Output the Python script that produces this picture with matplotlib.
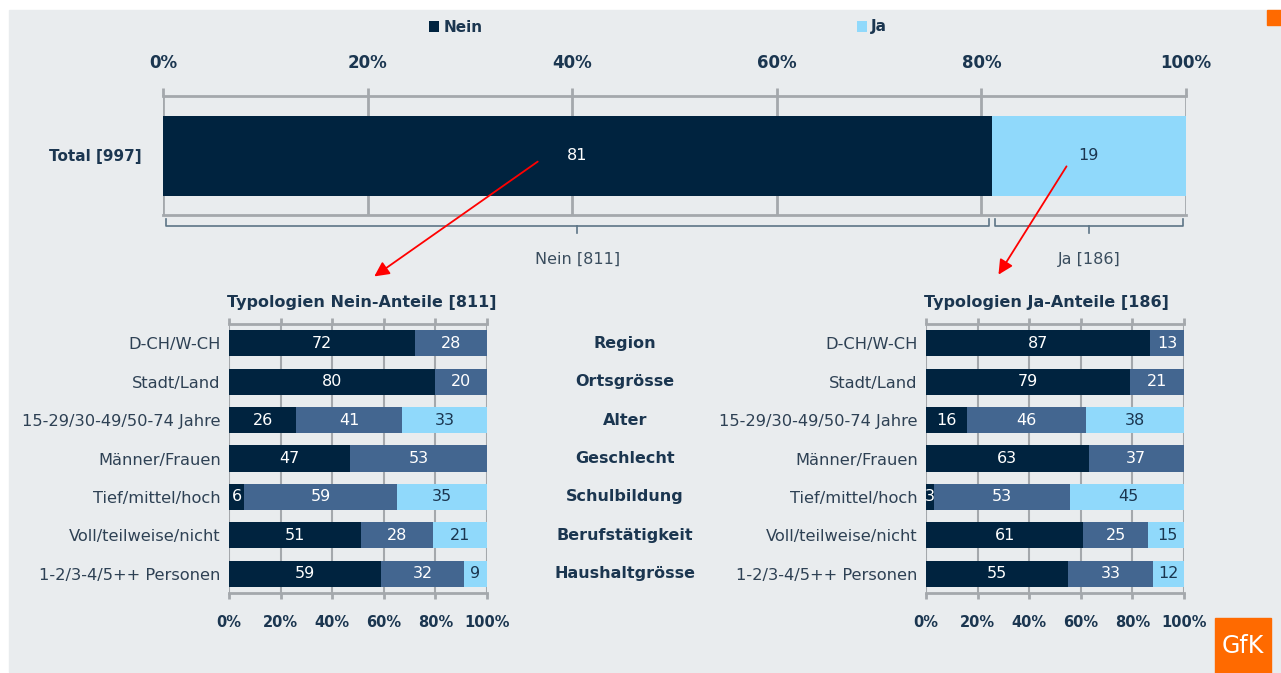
import numpy as np
import matplotlib.pyplot as plt
from matplotlib import transforms
from matplotlib.patches import Rectangle, FancyArrowPatch

# Total
total_label = ["Total [997]"]
total_nein = [81]
total_ja = [19]
n_nein = 811
n_ja = 186

# Typologien
categories = ["D-CH/W-CH", "Stadt/Land", "15-29/30-49/50-74 Jahre", "Männer/Frauen",
              "Tief/mittel/hoch", "Voll/teilweise/nicht", "1-2/3-4/5++ Personen"]
dimensions = ["Region", "Ortsgrösse", "Alter", "Geschlecht", "Schulbildung",
              "Berufstätigkeit", "Haushaltgrösse"]
nein_1 = [72, 80, 26, 47, 6, 51, 59]
nein_2 = [28, 20, 41, 53, 59, 28, 32]
nein_3 = [0, 0, 33, 0, 35, 21, 9]
ja_1 = [87, 79, 16, 63, 3, 61, 55]
ja_2 = [13, 21, 46, 37, 53, 25, 33]
ja_3 = [0, 0, 38, 0, 45, 15, 12]

ticks = [0, 20, 40, 60, 80, 100]
tick_labels = ["0%", "20%", "40%", "60%", "80%", "100%"]

DARK = "#00233f"
MID = "#436690"
LIGHT = "#90d9fb"
TXT = "#1b3650"
CAT = "#2e4154"
GRID = "#a4a8ac"
BG = "#e9ecee"

W, H = 1281, 673
plt.rcParams['font.family'] = ['DejaVu Sans']

fig = plt.figure(figsize=(W / 100, H / 100), dpi=100)
fig.patch.set_facecolor("white")


def box(x0, y0, x1, y1):
    return [x0 / W, 1 - y1 / H, (x1 - x0) / W, (y1 - y0) / H]


def fx(x):
    return x / W


def fy(y):
    return 1 - y / H


fig.patches.append(Rectangle((fx(9), fy(672)), fx(1281) - fx(9), fy(10) - fy(672),
                             transform=fig.transFigure, color=BG, zorder=-10))
fig.patches.append(Rectangle((fx(1267), fy(25)), fx(1281) - fx(1267), fy(10) - fy(25),
                             transform=fig.transFigure, color="#ff6a00", zorder=-5))

# ---------- top chart ----------
ax = fig.add_axes(box(163, 96, 1186, 215))
ax.set_facecolor("none")
bh = 80 / 119
b1 = ax.barh([0.5], total_nein, height=bh, color=DARK, label="Nein", zorder=3)
b2 = ax.barh([0.5], total_ja, left=total_nein, height=bh, color=LIGHT, label="Ja", zorder=3)
ax.text(total_nein[0] / 2, 0.5, str(total_nein[0]), color="white", ha="center",
        va="center", fontsize=11.5, zorder=4)
ax.text(total_nein[0] + total_ja[0] / 2, 0.5, str(total_ja[0]), color=TXT, ha="center",
        va="center", fontsize=11.5, zorder=4)
ax.set_xlim(0, 100)
ax.set_ylim(0, 1)
ax.set_yticks([0.5])
ax.set_yticklabels(total_label, fontsize=11, fontweight="bold", color=TXT)
ax.tick_params(axis="y", length=0, pad=15.5)
ax.xaxis.tick_top()
ax.set_xticks(ticks)
ax.set_xticklabels(tick_labels, fontsize=12, fontweight="bold", color=TXT)
ax.tick_params(axis="x", direction="out", length=6, width=2, color=GRID, pad=11)
ax.grid(axis="x", color=GRID, lw=2, zorder=0)
for s in ["left", "right"]:
    ax.spines[s].set_visible(False)
for s in ["top", "bottom"]:
    ax.spines[s].set_color(GRID)
    ax.spines[s].set_linewidth(2)

# braces under the total bar
tr = transforms.blended_transform_factory(ax.transData, ax.transAxes)
bc = "#5d7586"
for x0, x1, lab in [(0, total_nein[0], "Nein [%d]" % n_nein),
                    (total_nein[0], 100, "Ja [%d]" % n_ja)]:
    a, b = x0 + 0.3, x1 - 0.3
    mid = (x0 + x1) / 2
    ax.plot([a, a, b, b], [-0.03, -0.09, -0.09, -0.03], color=bc, lw=1.2,
            transform=tr, clip_on=False)
    ax.plot([mid, mid], [-0.09, -0.15], color=bc, lw=1.2, transform=tr, clip_on=False)
    ax.text(mid, -0.37, lab, transform=tr, ha="center", va="center",
            fontsize=11.5, color="#3a4d5e")

leg = fig.legend(handles=[b1, b2], loc="center", bbox_to_anchor=(fx(658), fy(27)), ncol=2,
                 frameon=False, fontsize=11, handlelength=0.7, handleheight=0.7,
                 handletextpad=0.25, columnspacing=24.5)
for t in leg.get_texts():
    t.set_fontweight("bold")
    t.set_color(TXT)


# ---------- bottom charts ----------
def typ_chart(rect, s1, s2, s3, title, title_x):
    a = fig.add_axes(rect)
    a.set_facecolor("none")
    y = np.arange(len(categories))
    h = 26 / 38.4
    s1 = np.array(s1)
    s2 = np.array(s2)
    s3 = np.array(s3)
    a.barh(y, s1, height=h, color=DARK, zorder=3)
    a.barh(y, s2, left=s1, height=h, color=MID, zorder=3)
    a.barh(y, s3, left=s1 + s2, height=h, color=LIGHT, zorder=3)
    for i in range(len(y)):
        for v, left, c in [(s1[i], 0, "white"), (s2[i], s1[i], "white"),
                           (s3[i], s1[i] + s2[i], TXT)]:
            if v > 0:
                a.text(left + v / 2, y[i], str(v), ha="center", va="center",
                       color=c, fontsize=11.5, zorder=4)
    a.set_xlim(0, 100)
    a.set_ylim(len(categories) - 0.5, -0.5)
    a.set_yticks(y)
    a.set_yticklabels(categories, fontsize=11.7, color=CAT)
    a.tick_params(axis="y", length=0, pad=6)
    a.set_xticks(ticks)
    a.set_xticklabels(tick_labels, fontsize=10.5, fontweight="bold", color=TXT)
    a.tick_params(axis="x", direction="out", length=4, width=2, color=GRID,
                  top=True, pad=12)
    a.grid(axis="x", color=GRID, lw=1.5, zorder=0)
    for s in ["left", "right"]:
        a.spines[s].set_visible(False)
    for s in ["top", "bottom"]:
        a.spines[s].set_color(GRID)
        a.spines[s].set_linewidth(2)
    fig.text(fx(title_x), fy(303), title, ha="center", va="center", fontsize=11.5,
             fontweight="bold", color=TXT)
    return a


axl = typ_chart(box(229, 324, 487, 593), nein_1, nein_2, nein_3,
                "Typologien Nein-Anteile [%d]" % n_nein, 362)
axr = typ_chart(box(926, 324, 1184, 593), ja_1, ja_2, ja_3,
                "Typologien Ja-Anteile [%d]" % n_ja, 1046)

mt = transforms.blended_transform_factory(fig.transFigure, axl.transData)
for i, d in enumerate(dimensions):
    fig.text(fx(625), i, d, transform=mt, ha="center", va="center", fontsize=11.5,
             fontweight="bold", color=TXT)

# red arrows
for (x0, y0), (x1, y1) in [((540, 160), (372, 278)), ((1068, 164), (997, 277))]:
    fig.add_artist(FancyArrowPatch(
        (fx(x0), fy(y0)), (fx(x1), fy(y1)), transform=fig.transFigure,
        arrowstyle="-|>", mutation_scale=22, color="#ff0000", lw=1.3))

# GfK logo
fig.patches.append(Rectangle((fx(1215), fy(673)), fx(1271) - fx(1215), fy(618) - fy(673),
                             transform=fig.transFigure, color="#ff6a00", zorder=5))
fig.text(fx(1243), fy(646), "GfK", ha="center", va="center", fontsize=17,
         color="white", zorder=6)

fig.savefig("out.png", dpi=100, facecolor=fig.get_facecolor())
